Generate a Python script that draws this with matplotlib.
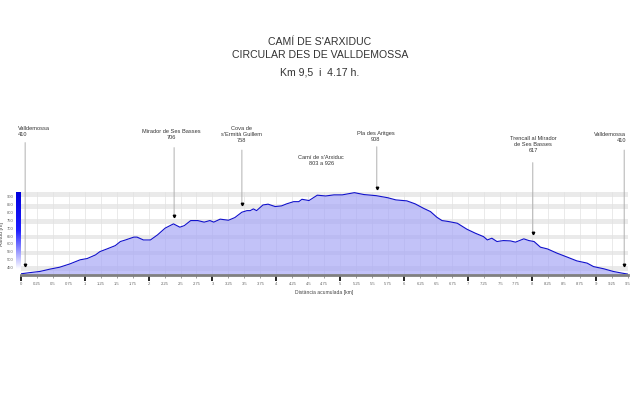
import numpy as np
import matplotlib
matplotlib.use('Agg')
import matplotlib.pyplot as plt
from matplotlib.colors import LinearSegmentedColormap

plt.rcParams['font.family'] = ['Liberation Sans', 'DejaVu Sans']

# Elevation profile (km, m)
dist_km = [0.00, 0.15, 0.30, 0.46, 0.61, 0.77, 0.93, 1.04, 1.17, 1.24, 1.35, 1.48,
           1.56, 1.64, 1.77, 1.82, 1.92, 2.03, 2.14, 2.26, 2.39, 2.49, 2.56, 2.66,
           2.77, 2.87, 2.96, 3.02, 3.12, 3.25, 3.35, 3.46, 3.54, 3.59, 3.64, 3.69,
           3.79, 3.87, 3.98, 4.08, 4.16, 4.27, 4.35, 4.40, 4.51, 4.64, 4.77, 4.90,
           5.03, 5.22, 5.37, 5.56, 5.74, 5.87, 6.04, 6.17, 6.30, 6.41, 6.51, 6.59,
           6.69, 6.83, 6.98, 7.11, 7.24, 7.30, 7.37, 7.45, 7.55, 7.66, 7.74, 7.87,
           7.95, 8.03, 8.13, 8.24, 8.39, 8.55, 8.70, 8.86, 8.96, 9.12, 9.27, 9.40,
           9.50]
elev_m = [410, 418, 425, 440, 452, 473, 499, 507, 530, 551, 568, 589,
          615, 625, 643, 643, 625, 625, 657, 700, 727, 706, 716, 748,
          748, 738, 748, 738, 757, 750, 767, 801, 811, 811, 822, 811,
          847, 852, 837, 841, 854, 868, 868, 883, 875, 909, 904, 911,
          911, 925, 913, 906, 893, 879, 873, 854, 826, 805, 769, 748,
          742, 731, 693, 668, 646, 625, 636, 615, 621, 619, 611, 632,
          621, 615, 579, 568, 541, 516, 492, 478, 456, 442, 425, 415,
          408]

# Waypoints
wp_names = ['Valldemossa\n410', 'Mirador de Ses Basses\n706', "Cova de\ns'Ermità Guillem\n758",
            "Camí de s'Arxiduc\n803 a 926", 'Pla des Aritges\n908',
            'Trencall al Mirador\nde Ses Basses\n617', 'Valldemossa\n410']
wp_km = [0.07, 2.40, 3.46, 4.70, 5.57, 8.01, 9.44]
wp_text_x = [-0.04, 2.36, 3.46, 4.70, 5.55, 8.02, 9.47]
wp_align = ['left', 'center', 'center', 'center', 'center', 'center', 'right']
wp_text_y = [1.655, 1.62, 1.585, 1.31, 1.60, 1.465, 1.585]   # axes fraction
wp_line_top = [1.59, 1.53, 1.50, None, 1.54, 1.35, 1.50]

y_ticks = list(range(450, 901, 50))
major_x = list(range(0, 10))
minor_x = [v for v in np.arange(0, 9.51, 0.25) if v % 1 != 0]

fig = plt.figure(figsize=(6.4, 3.94), dpi=100)
ax = fig.add_axes([0.0323, 0.301, 0.949, 0.212])
ax.set_xlim(0, 9.5)
ax.set_ylim(400, 930)

# grey horizontal bands and vertical grid
for lo, hi in [(430, 458), (530, 558), (628, 657), (728, 758), (824, 854), (898, 930)]:
    ax.axhspan(lo, hi, color='#eaeaea', zorder=0, lw=0)
for v in np.arange(0.25, 9.5, 0.25):
    ax.axvline(v, color='#e2e2e2', lw=0.5, zorder=0.5)

ax.fill_between(dist_km, 400, elev_m, color='#a8a8f6', alpha=0.7, lw=0, zorder=1)
ax.plot(dist_km, elev_m, color='#1010cc', lw=0.8, zorder=2)

# waypoint labels with leader lines
for name, km, tx, ha, ty, top in zip(wp_names, wp_km, wp_text_x, wp_align, wp_text_y, wp_line_top):
    ax.text(tx, ty, name, transform=ax.get_xaxis_transform(), ha=ha, va='bottom',
            fontsize=4.1, color='#333333', linespacing=1.25, multialignment=ha)
    if top is None:
        continue
    tip = np.interp(km, dist_km, elev_m) + 52
    ax.annotate('', xy=(km, tip), xytext=(km, top), textcoords=ax.get_xaxis_transform(),
                arrowprops=dict(arrowstyle='-', color='#b0b0b0', lw=0.7, shrinkA=0, shrinkB=0),
                annotation_clip=False)
    ax.plot(km, tip, marker='v', ms=1.8, color='black', clip_on=False, zorder=5)

# axes styling
for s in ['top', 'right', 'left']:
    ax.spines[s].set_visible(False)
ax.spines['bottom'].set_color('#808080')
ax.spines['bottom'].set_linewidth(2)
ax.spines['bottom'].set_zorder(3)

ax.set_xticks(major_x, [str(v) for v in major_x])
ax.set_xticks(minor_x, [f'{v:g}' for v in minor_x], minor=True)
ax.tick_params(axis='x', which='major', length=4, width=1.2, color='black',
               labelsize=3, labelcolor='#666666', pad=0.6)
ax.tick_params(axis='x', which='minor', length=2.2, width=0.5, color='#777777',
               labelsize=3, labelcolor='#666666', pad=2.4)
ax.set_yticks(y_ticks, [str(v) for v in y_ticks])
ax.tick_params(axis='y', length=0, labelsize=3, labelcolor='#666666', pad=5)
ax.set_xlabel('Distància acumulada [km]', fontsize=3.6, color='#444444', labelpad=3)
ax.set_ylabel('Altitud [m]', fontsize=3.8, color='#444444', labelpad=2)

# blue gradient bar beside the y axis
cax = fig.add_axes([15.7 / 640, 0.318, 5.0 / 640, 0.195])
grad = np.linspace(0, 1, 256).reshape(-1, 1)
cmap = LinearSegmentedColormap.from_list('blu', ['#ffffff', '#1f1fff', '#0000dd'])
cax.imshow(grad, aspect='auto', cmap=cmap, origin='lower')
cax.axis('off')

# titles
fig.text(0.5, 0.893, "CAMÍ DE S'ARXIDUC", ha='center', va='center', fontsize=7.6, color='#333333')
fig.text(0.5, 0.860, 'CIRCULAR DES DE VALLDEMOSSA', ha='center', va='center', fontsize=7.6, color='#333333')
fig.text(0.5, 0.817, 'Km 9,5  i  4.17 h.', ha='center', va='center', fontsize=7.6, color='#333333')

fig.savefig('out.png', dpi=100)
